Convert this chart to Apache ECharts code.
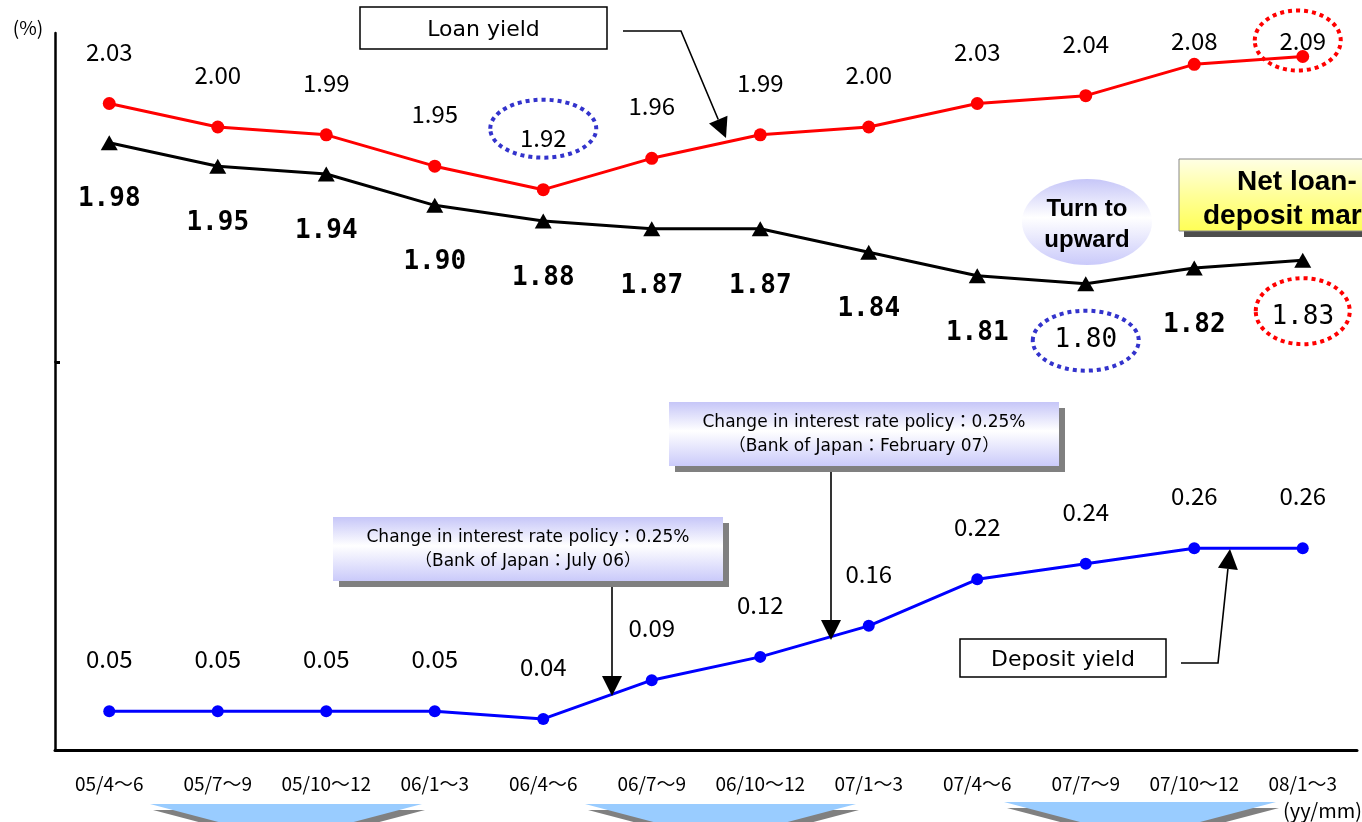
<!DOCTYPE html>
<html>
<head>
<meta charset="utf-8">
<script src="https://cdn.jsdelivr.net/npm/echarts@6/dist/echarts.min.js"></script>
<style>
  html, body { margin: 0; padding: 0; background: #fff; }
  #main { width: 1362px; height: 822px; }
</style>
</head>
<body>
<div id="main"></div>
<script>
// Quarterly periods (yy/mm)
const categories = ['05/4～6', '05/7～9', '05/10～12', '06/1～3', '06/4～6', '06/7～9',
                    '06/10～12', '07/1～3', '07/4～6', '07/7～9', '07/10～12', '08/1～3'];
// Yields in percent
const loanYield    = [2.03, 2.00, 1.99, 1.95, 1.92, 1.96, 1.99, 2.00, 2.03, 2.04, 2.08, 2.09];
const netMargin    = [1.98, 1.95, 1.94, 1.90, 1.88, 1.87, 1.87, 1.84, 1.81, 1.80, 1.82, 1.83];
const depositYield = [0.05, 0.05, 0.05, 0.05, 0.04, 0.09, 0.12, 0.16, 0.22, 0.24, 0.26, 0.26];

const NUM_FONT  = "'Noto Sans CJK JP', sans-serif";
const TEXT_FONT = "'DejaVu Sans', 'Noto Sans CJK JP', sans-serif";
const BOLD_FONT = "'Liberation Sans', Arial, sans-serif";
const MONO_FONT = "'DejaVu Sans Mono', 'Noto Sans CJK JP', monospace";

// label placement relative to each point
const LOAN_LABEL_DY = -52;
const loanLabelDy = { 10: -23, 11: -16 };   // last two sit closer to their points
const MARGIN_LABEL_DY = 57;
const marginPlainWeight = { 9: true, 11: true }; // ringed values use regular weight
const DEPOSIT_LABEL_DY = -52;

const fmt = p => Number(p.value).toFixed(2);

const loanData = loanYield.map((v, i) => ({
  value: v,
  label: { offset: [0, loanLabelDy[i] !== undefined ? loanLabelDy[i] : LOAN_LABEL_DY] }
}));
const marginData = netMargin.map((v, i) => ({
  value: v,
  label: marginPlainWeight[i] ? { fontWeight: 'normal' } : {}
}));

const chart = echarts.init(document.getElementById('main'), null, { renderer: 'canvas' });

const option = {
  animation: false,
  backgroundColor: '#fff',
  grid: [
    { left: 55, right: 5, top: 33, height: 329 },
    { left: 55, right: 5, top: 362, height: 388 }
  ],
  xAxis: [
    { gridIndex: 0, type: 'category', data: categories, boundaryGap: true, show: false },
    {
      gridIndex: 1, type: 'category', data: categories, boundaryGap: true,
      axisLine: { lineStyle: { color: '#000', width: 3 } },
      axisTick: { inside: true, length: 9, lineStyle: { color: '#000', width: 2 } },
      axisLabel: { interval: 0, margin: 24, fontFamily: NUM_FONT, fontSize: 19, color: '#000' },
      splitLine: { show: false }
    }
  ],
  yAxis: [
    {
      gridIndex: 0, type: 'value', min: 1.7, max: 2.12,
      axisLine: { show: true, lineStyle: { color: '#000', width: 2.5 } },
      axisTick: { show: false }, axisLabel: { show: false }, splitLine: { show: false }
    },
    {
      gridIndex: 1, type: 'value', min: 0, max: 0.5, interval: 0.5,
      axisLine: { show: true, lineStyle: { color: '#000', width: 2.5 } },
      axisTick: { show: true, inside: true, length: 5, lineStyle: { color: '#000', width: 3 } },
      axisLabel: { show: false }, splitLine: { show: false }
    }
  ],
  series: [
    {
      name: 'Loan yield', type: 'line', xAxisIndex: 0, yAxisIndex: 0, data: loanData,
      symbol: 'circle', symbolSize: 13,
      lineStyle: { color: '#FF0000', width: 3 }, itemStyle: { color: '#FF0000' },
      label: {
        show: true, position: 'inside', formatter: fmt, color: '#000',
        fontFamily: NUM_FONT, fontSize: 24, textBorderWidth: 0
      }
    },
    {
      name: 'Net loan-deposit margin', type: 'line', xAxisIndex: 0, yAxisIndex: 0, data: marginData,
      symbol: 'triangle', symbolSize: [17, 15],
      lineStyle: { color: '#000', width: 3 }, itemStyle: { color: '#000' },
      label: {
        show: true, position: 'inside', offset: [0, MARGIN_LABEL_DY], formatter: fmt, color: '#000',
        fontFamily: MONO_FONT, fontWeight: 'bold', fontSize: 26, textBorderWidth: 0
      }
    },
    {
      name: 'Deposit yield', type: 'line', xAxisIndex: 1, yAxisIndex: 1, data: depositYield,
      symbol: 'circle', symbolSize: 12,
      lineStyle: { color: '#0000FF', width: 3 }, itemStyle: { color: '#0000FF' },
      label: {
        show: true, position: 'inside', offset: [0, DEPOSIT_LABEL_DY], formatter: fmt, color: '#000',
        fontFamily: NUM_FONT, fontSize: 24, textBorderWidth: 0
      }
    }
  ]
};

chart.setOption(option);

// ---------- annotation helpers ----------
function arrow(points, head, half) {
  head = head || 20; half = half || 10;
  const n = points.length;
  const [x1, y1] = points[n - 2];
  const [x2, y2] = points[n - 1];
  const dx = x2 - x1, dy = y2 - y1, L = Math.hypot(dx, dy);
  const ux = dx / L, uy = dy / L;
  const bx = x2 - ux * head, by = y2 - uy * head;
  return [
    { type: 'polyline', silent: true, z: 20,
      shape: { points: points.slice(0, n - 1).concat([[bx, by]]) },
      style: { stroke: '#000', lineWidth: 1.6, fill: null } },
    { type: 'polygon', silent: true, z: 20,
      shape: { points: [[x2, y2], [bx - uy * half, by + ux * half], [bx + uy * half, by - ux * half]] },
      style: { fill: '#000' } }
  ];
}

function plainBox(x, y, w, h, text, fontSize) {
  return [
    { type: 'rect', silent: true, z: 20, shape: { x, y, width: w, height: h },
      style: { fill: '#fff', stroke: '#000', lineWidth: 1.5 } },
    { type: 'text', silent: true, z: 21, x: x + w / 2, y: y + h / 2 + 2,
      style: { text, fontFamily: TEXT_FONT, fontSize, fill: '#000', align: 'center', verticalAlign: 'middle' } }
  ];
}

const lavender = {
  type: 'linear', x: 0, y: 0, x2: 0, y2: 1,
  colorStops: [
    { offset: 0, color: '#C6C6F8' },
    { offset: 0.45, color: '#FFFFFF' },
    { offset: 1, color: '#CACAFA' }
  ]
};

function policyBox(x, y, w, h, line1, line2) {
  return [
    { type: 'rect', silent: true, z: 19, shape: { x: x + 6, y: y + 6, width: w, height: h },
      style: { fill: '#808080' } },
    { type: 'rect', silent: true, z: 20, shape: { x, y, width: w, height: h },
      style: { fill: lavender } },
    { type: 'text', silent: true, z: 21, x: x + w / 2, y: y + 21,
      style: { text: line1, fontFamily: TEXT_FONT, fontSize: 17, fill: '#000', align: 'center', verticalAlign: 'middle' } },
    { type: 'text', silent: true, z: 21, x: x + w / 2, y: y + 45,
      style: { text: line2, fontFamily: TEXT_FONT, fontSize: 17, fill: '#000', align: 'center', verticalAlign: 'middle' } }
  ];
}

function chevron(xl, xr, top) {
  const cx = (xl + xr) / 2, apex = top + (xr - xl) / 2 / 3.8;
  return [
    { type: 'polygon', silent: true, z: 5,
      shape: { points: [[xl + 3, top + 6], [xr + 3, top + 6], [cx + 3, apex + 6]] },
      style: { fill: '#808080' } },
    { type: 'polygon', silent: true, z: 6,
      shape: { points: [[xl, top], [xr, top], [cx, apex]] },
      style: { fill: '#99CCFF' } }
  ];
}

// dotted rings around selected value labels
const rings = [
  { series: 0, index: 4,  rx: 53, ry: 29, color: '#3333CC', dx: 0,  dy: -9 },
  { series: 0, index: 11, rx: 43, ry: 30, color: '#FF0000', dx: -5, dy: 0 },
  { series: 1, index: 9,  rx: 53, ry: 30, color: '#3333CC', dx: 0,  dy: 0 },
  { series: 1, index: 11, rx: 47, ry: 33, color: '#FF0000', dx: 0,  dy: -6 }
];
const seriesValues = [loanYield, netMargin, depositYield];
const labelDy = (s, i) => s === 0 ? (loanLabelDy[i] !== undefined ? loanLabelDy[i] : LOAN_LABEL_DY)
                        : s === 1 ? MARGIN_LABEL_DY : DEPOSIT_LABEL_DY;

const ringGraphics = rings.map(r => {
  const p = chart.convertToPixel({ seriesIndex: r.series }, [r.index, seriesValues[r.series][r.index]]);
  return {
    type: 'ellipse', silent: true, z: 22,
    shape: { cx: p[0] + r.dx, cy: p[1] + labelDy(r.series, r.index) + r.dy, rx: r.rx, ry: r.ry },
    style: { fill: null, stroke: r.color, lineWidth: 4, lineDash: [4, 4] }
  };
});

const graphics = [].concat(
  // axis captions
  [{ type: 'text', silent: true, x: 28, y: 28,
     style: { text: '(%)', fontFamily: NUM_FONT, fontSize: 19, fill: '#000', align: 'center', verticalAlign: 'middle' } },
   { type: 'text', silent: true, z: 10, x: 1362, y: 810,
     style: { text: '(yy/mm)', fontFamily: NUM_FONT, fontSize: 20, fill: '#000', align: 'right', verticalAlign: 'middle' } }],
  // series captions with leader arrows
  plainBox(360, 7, 247, 42, 'Loan yield', 22),
  arrow([[623, 31], [681, 31], [726, 138]]),
  plainBox(960, 639, 206, 38, 'Deposit yield', 22),
  arrow([[1181, 663], [1218, 663], [1230, 549]]),
  // policy change callouts
  policyBox(333, 517, 390, 64, 'Change in interest rate policy：0.25%', '（Bank of Japan：July 06）'),
  arrow([[612, 587], [612, 696]]),
  policyBox(669, 402, 390, 64, 'Change in interest rate policy：0.25%', '（Bank of Japan：February 07）'),
  arrow([[831, 472], [831, 640]]),
  // turning-point bubble
  [{ type: 'ellipse', silent: true, z: 20, shape: { cx: 1087, cy: 222, rx: 65, ry: 43 },
     style: { fill: lavender } },
   { type: 'text', silent: true, z: 21, x: 1087, y: 225,
     style: { text: 'Turn to\nupward', fontFamily: BOLD_FONT, fontWeight: 'bold', fontSize: 24,
              lineHeight: 31, fill: '#000', align: 'center', verticalAlign: 'middle' } }],
  // margin caption
  [{ type: 'rect', silent: true, z: 19, shape: { x: 1184, y: 165, width: 240, height: 72 },
     style: { fill: '#4D4D4D' } },
   { type: 'rect', silent: true, z: 20, shape: { x: 1179, y: 159, width: 240, height: 72 },
     style: { fill: { type: 'linear', x: 0, y: 0, x2: 0, y2: 1,
                      colorStops: [{ offset: 0, color: '#FFFFE6' }, { offset: 0.5, color: '#FFFF99' }, { offset: 1, color: '#FFFF55' }] },
              stroke: '#888', lineWidth: 1 } },
   { type: 'text', silent: true, z: 21, x: 1237, y: 182,
     style: { text: 'Net loan-', fontFamily: BOLD_FONT, fontWeight: 'bold', fontSize: 28, fill: '#000', align: 'left', verticalAlign: 'middle' } },
   { type: 'text', silent: true, z: 21, x: 1203, y: 216,
     style: { text: 'deposit margin', fontFamily: BOLD_FONT, fontWeight: 'bold', fontSize: 28, fill: '#000', align: 'left', verticalAlign: 'middle' } }],
  // period markers under the axis
  chevron(150, 422, 804),
  chevron(585, 856, 804),
  chevron(1004, 1276, 802),
  ringGraphics
);

chart.setOption({ graphic: graphics });
</script>
</body>
</html>
